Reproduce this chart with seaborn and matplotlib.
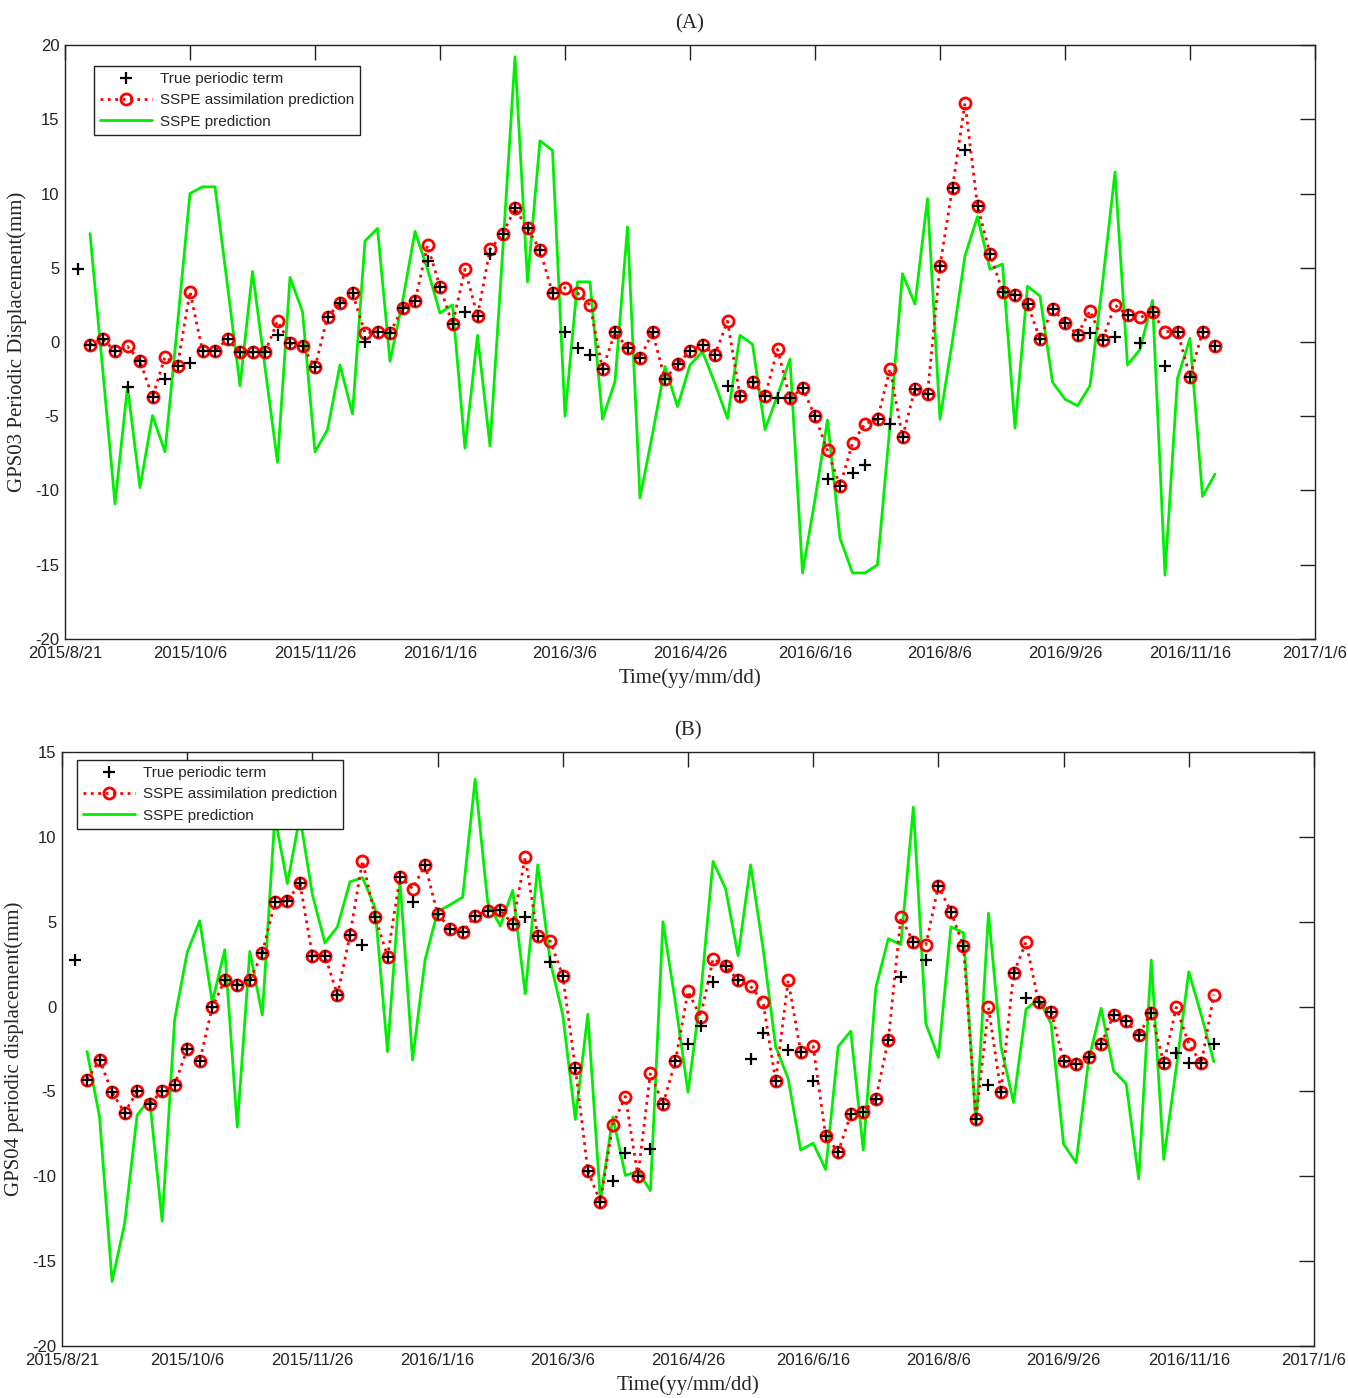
import numpy as np
import pandas as pd
import seaborn as sns
import matplotlib
matplotlib.use('Agg')
import matplotlib.pyplot as plt
from matplotlib.lines import Line2D

# ---------------------------------------------------------------
#  data ; sampling every 5 days from 2015/8/21
# ---------------------------------------------------------------
days = np.arange(5, 465, 5)          # 92 epochs, true term starts one epoch earlier
date_ticks = np.arange(0, 501, 50)
date_labels = ["2015/8/21", "2015/10/6", "2015/11/26", "2016/1/16", "2016/3/6",
               "2016/4/26", "2016/6/16", "2016/8/6", "2016/9/26", "2016/11/16",
               "2017/1/6"]

# GPS03 (panel A)
assim_a = [-0.2, 0.2, -0.6, -0.3, -1.3, -3.7, -1.0, -1.6, 3.4, -0.6,
           -0.6, 0.2, -0.7, -0.7, -0.7, 1.4, -0.1, -0.3, -1.7, 1.7,
           2.6, 3.3, 0.6, 0.7, 0.6, 2.3, 2.75, 6.5, 3.7, 1.2,
           4.9, 1.75, 6.25, 7.25, 9.0, 7.65, 6.2, 3.3, 3.65, 3.3,
           2.5, -1.85, 0.65, -0.4, -1.1, 0.65, -2.5, -1.5, -0.6, -0.2,
           -0.85, 1.4, -3.65, -2.7, -3.65, -0.5, -3.8, -3.1, -5.0, -7.3,
           -9.7, -6.8, -5.5, -5.2, -1.8, -6.4, -3.15, -3.5, 5.15, 10.4,
           16.1, 9.15, 5.95, 3.4, 3.15, 2.55, 0.2, 2.25, 1.3, 0.5,
           2.1, 0.15, 2.5, 1.8, 1.65, 2.0, 0.7, 0.7, -2.35, 0.7,
           -0.3]
pred_a = [7.3, -1.7, -10.9, -3.0, -9.8, -4.95, -7.4, 1.2, 10.0, 10.45,
          10.45, 3.8, -2.95, 4.75, -1.7, -8.1, 4.35, 2.05, -7.4, -5.9,
          -1.55, -4.85, 6.8, 7.65, -1.3, 2.7, 7.45, 4.9, 1.95, 2.5,
          -7.15, 0.45, -7.0, 5.9, 19.2, 4.05, 13.55, 12.9, -5.0, 4.05,
          4.05, -5.2, -2.65, 7.75, -10.5, -6.2, -1.65, -4.35, -1.55, -0.65,
          -2.8, -5.15, 0.45, -0.15, -5.9, -3.6, -1.15, -15.55, -10.6, -5.25,
          -13.2, -15.55, -15.55, -15.0, -5.6, 4.6, 2.55, 9.65, -5.2, 0.1,
          5.8, 8.45, 4.9, 5.25, -5.8, 3.75, 3.1, -2.7, -3.85, -4.3,
          -2.95, 3.95, 11.45, -1.55, -0.5, 2.8, -15.7, -2.45, 0.25, -10.4,
          -8.9]
true_a = [4.9, -0.2, 0.2, -0.6, -3.0, -1.3, -3.7, -2.5, -1.6, -1.4,
          -0.6, -0.6, 0.2, -0.7, -0.7, -0.7, 0.45, -0.1, -0.3, -1.7,
          1.7, 2.6, 3.3, 0.0, 0.7, 0.6, 2.3, 2.75, 5.45, 3.7,
          1.2, 2.0, 1.75, 5.95, 7.25, 9.0, 7.65, 6.2, 3.3, 0.7,
          -0.4, -0.85, -1.85, 0.65, -0.4, -1.1, 0.65, -2.5, -1.5, -0.6,
          -0.2, -0.85, -2.95, -3.65, -2.7, -3.65, -3.75, -3.8, -3.1, -5.0,
          -9.25, -9.7, -8.8, -8.3, -5.2, -5.5, -6.4, -3.15, -3.5, 5.15,
          10.4, 12.9, 9.15, 5.95, 3.4, 3.15, 2.55, 0.2, 2.25, 1.3,
          0.5, 0.6, 0.15, 0.35, 1.8, -0.1, 2.0, -1.6, 0.7, -2.35,
          0.7, -0.3]

# GPS04 (panel B)
assim_b = [-4.3, -3.15, -5.05, -6.25, -5.0, -5.75, -4.95, -4.6, -2.5, -3.2,
           -0.05, 1.55, 1.3, 1.55, 3.15, 6.15, 6.2, 7.3, 3.0, 3.0,
           0.7, 4.2, 8.6, 5.3, 2.95, 7.65, 6.95, 8.35, 5.45, 4.6,
           4.4, 5.35, 5.65, 5.7, 4.85, 8.8, 4.15, 3.85, 1.8, -3.6,
           -9.7, -11.5, -6.95, -5.3, -10.0, -3.9, -5.75, -3.2, 0.9, -0.6,
           2.8, 2.4, 1.55, 1.2, 0.25, -4.4, 1.55, -2.65, -2.35, -7.65,
           -8.55, -6.35, -6.2, -5.45, -1.95, 5.25, 3.8, 3.65, 7.1, 5.6,
           3.55, -6.65, -0.05, -5.05, 1.95, 3.8, 0.25, -0.3, -3.2, -3.4,
           -3.0, -2.2, -0.5, -0.85, -1.7, -0.35, -3.35, -0.05, -2.2, -3.35,
           0.7]
pred_b = [-2.65, -6.5, -16.2, -12.8, -6.4, -5.45, -12.65, -0.75, 3.2, 5.05,
          0.25, 3.35, -7.1, 3.25, -0.5, 11.2, 7.25, 11.2, 6.6, 3.75,
          4.7, 7.35, 7.6, 5.85, -2.65, 7.4, -3.15, 2.75, 5.6, 6.0,
          6.45, 13.4, 6.15, 4.75, 6.85, 0.75, 8.35, 2.65, -0.5, -6.65,
          -0.45, -11.4, -6.5, -9.95, -9.7, -10.85, 5.0, 0.2, -5.05, 0.6,
          8.55, 6.95, 3.0, 8.35, 3.4, -2.35, -4.25, -8.45, -8.05, -9.6,
          -2.35, -1.45, -8.45, 1.1, 4.0, 3.65, 11.75, -1.0, -3.0, 4.7,
          4.35, -7.0, 5.5, -2.35, -5.65, -0.15, 0.45, -1.0, -8.1, -9.2,
          -3.15, -0.1, -3.8, -4.55, -10.15, 2.75, -9.0, -3.6, 2.05, -0.5,
          -3.25]
true_b = [2.75, -4.3, -3.15, -5.05, -6.25, -5.0, -5.75, -4.95, -4.6, -2.5,
          -3.2, -0.05, 1.55, 1.3, 1.55, 3.15, 6.15, 6.2, 7.3, 3.0,
          3.0, 0.7, 4.2, 3.65, 5.3, 2.95, 7.65, 6.15, 8.35, 5.45,
          4.6, 4.4, 5.35, 5.65, 5.7, 4.85, 5.25, 4.15, 2.6, 1.8,
          -3.6, -9.7, -11.5, -10.3, -8.65, -10.0, -8.4, -5.75, -3.2, -2.2,
          -1.15, 1.45, 2.4, 1.55, -3.1, -1.55, -4.4, -2.55, -2.65, -4.4,
          -7.65, -8.55, -6.35, -6.2, -5.45, -1.95, 1.75, 3.8, 2.75, 7.1,
          5.6, 3.55, -6.65, -4.6, -5.05, 1.95, 0.5, 0.25, -0.3, -3.2,
          -3.4, -3.0, -2.2, -0.5, -0.85, -1.7, -0.35, -3.35, -2.75, -3.3,
          -3.35, -2.2]

# ---------------------------------------------------------------
#  style
# ---------------------------------------------------------------
sns.set_style("white")
plt.rcParams['font.family'] = ['Liberation Sans Narrow', 'Liberation Sans', 'DejaVu Sans']
plt.rcParams['axes.unicode_minus'] = False
SERIF = ['Liberation Serif', 'DejaVu Serif']

fig = plt.figure(figsize=(13.48, 13.98), dpi=100)
ax_a = fig.add_axes([65 / 1348, 1 - 639 / 1398, 1250 / 1348, 594 / 1398])
ax_b = fig.add_axes([62 / 1348, 1 - 1346 / 1398, 1252 / 1348, 594 / 1398])


def draw_panel(ax, true, assim, pred, ylim, ylabel, title, leg_anchor):
    sns.lineplot(x=days[1:], y=pred, ax=ax, color='#00ee00', linewidth=2.0,
                 zorder=2)
    sns.lineplot(x=days[1:], y=assim, ax=ax, color='red', linestyle=':',
                 linewidth=2.0, marker='o', markersize=8, markerfacecolor='none',
                 markeredgecolor='red', markeredgewidth=2.0, zorder=3)
    sns.scatterplot(x=days, y=true, ax=ax, marker='+', color='black', s=80,
                    linewidth=1.6, zorder=4)

    ax.set_xlim(0, 500)
    ax.set_ylim(*ylim)
    ax.set_xticks(date_ticks)
    ax.set_xticklabels(date_labels)
    ax.set_yticks(np.arange(ylim[0], ylim[1] + 1, 5))
    ax.tick_params(direction='in', top=True, right=True, length=11, width=1,
                   labelsize=12, colors='#222222')
    ax.tick_params(axis='x', pad=5)
    ax.tick_params(axis='y', pad=4)
    for sp in ax.spines.values():
        sp.set_color('#222222')
        sp.set_linewidth(1.0)

    ax.set_xlabel("Time(yy/mm/dd)", family=SERIF, fontsize=15, labelpad=5)
    ax.set_ylabel(ylabel, family=SERIF, fontsize=15, labelpad=6)
    ax.set_title(title, family=SERIF, fontsize=15, pad=12)

    handles = [
        Line2D([], [], color='black', marker='+', linestyle='none',
               markersize=9, markeredgewidth=1.6),
        Line2D([], [], color='red', linestyle=':', linewidth=2.0, marker='o',
               markersize=8, markerfacecolor='none', markeredgewidth=2.0),
        Line2D([], [], color='#00ee00', linewidth=2.0),
    ]
    labels = ["True periodic term", "SSPE assimilation prediction", "SSPE prediction"]
    leg = ax.legend(handles, labels, loc='upper left', bbox_to_anchor=leg_anchor,
                    borderaxespad=0, frameon=True, fancybox=False,
                    handlelength=3.4, labelspacing=0.48, borderpad=0.4,
                    handletextpad=0.5, framealpha=1,
                    prop={'family': ['Liberation Sans', 'DejaVu Sans'], 'size': 11})
    leg.get_frame().set_edgecolor('#222222')
    leg.get_frame().set_linewidth(1.0)


draw_panel(ax_a, true_a, assim_a, pred_a, (-20, 20),
           "GPS03 Periodic Displacement(mm)", "(A)", (29 / 1250, 1 - 21 / 594))
draw_panel(ax_b, true_b, assim_b, pred_b, (-20, 15),
           "GPS04 periodic displacement(mm)", "(B)", (15 / 1252, 1 - 8 / 594))

fig.savefig("out.png", dpi=100)
